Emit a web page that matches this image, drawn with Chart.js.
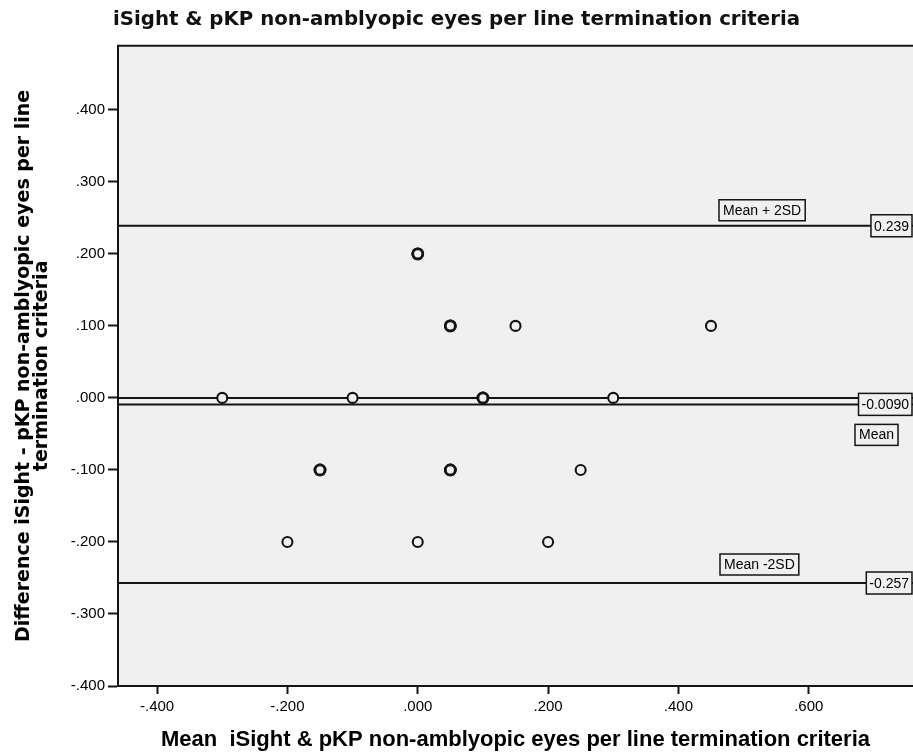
<!DOCTYPE html>
<html><head><meta charset="utf-8">
<script src="https://cdn.jsdelivr.net/npm/chart.js@4.4.0/dist/chart.umd.min.js"></script>
<style>html,body{margin:0;padding:0;background:#fff;} #wrap{width:913px;height:756px;}</style>
</head><body><div id="wrap"><canvas id="c" width="913" height="756"></canvas></div>
<script>
const chartTitle = 'iSight & pKP non-amblyopic eyes per line termination criteria';
const xAxisTitle = 'Mean  iSight & pKP non-amblyopic eyes per line termination criteria';
const yAxisTitle = ['Difference iSight - pKP non-amblyopic eyes per line', 'termination criteria'];

// Bland-Altman points (mean, difference); repeated pairs appear as heavier circles
const meanValues = [-0.3, -0.2, -0.15, -0.15, -0.1, 0, 0, 0, 0.05, 0.05, 0.05, 0.05, 0.1, 0.1, 0.15, 0.2, 0.25, 0.3, 0.45];
const diffValues = [0, -0.2, -0.1, -0.1, 0, 0.2, 0.2, -0.2, 0.1, 0.1, -0.1, -0.1, 0, 0, 0.1, -0.2, -0.1, 0, 0.1];

const xTickValues = [-0.4, -0.2, 0, 0.2, 0.4, 0.6];
const xTickLabels = ['-.400', '-.200', '.000', '.200', '.400', '.600'];
const yTickValues = [-0.4, -0.3, -0.2, -0.1, 0, 0.1, 0.2, 0.3, 0.4];
const yTickLabels = ['-.400', '-.300', '-.200', '-.100', '.000', '.100', '.200', '.300', '.400'];

const xRange = [-0.46, 0.76];
const yRange = [-0.4, 0.489];

// Reference lines: mean + 2SD, zero, mean, mean - 2SD
const refLineValues = [0.239, 0, -0.009, -0.257];
const refValueLabels = ['0.239', null, '-0.0090', '-0.257'];
const refNameLabels = ['Mean + 2SD', null, 'Mean', 'Mean -2SD'];

const FONT = "'Liberation Sans', Arial, sans-serif";
const WIDE_FONT = "'DejaVu Sans', sans-serif";
const PLOT_BG = '#f0f0f0';

function labelFor(values, labels, v) {
  for (let i = 0; i < values.length; i++) if (Math.abs(values[i] - v) < 1e-6) return labels[i];
  return '';
}

const points = meanValues.map((m, i) => ({x: m, y: diffValues[i]}));
const counts = points.map(p => points.filter(q => q.x === p.x && q.y === p.y).length);

const refDatasets = refLineValues.map(v => ({
  type: 'line',
  data: [{x: xRange[0], y: v}, {x: xRange[1], y: v}],
  borderColor: '#141414',
  borderWidth: 2,
  pointRadius: 0,
  fill: false,
  order: 2
}));

const framePlugin = {
  id: 'frame',
  beforeDraw(chart) {
    const {ctx, chartArea: a} = chart;
    ctx.save();
    ctx.fillStyle = '#ffffff';
    ctx.fillRect(0, 0, chart.width, chart.height);
    ctx.fillStyle = PLOT_BG;
    ctx.fillRect(a.left, a.top, a.right - a.left, a.bottom - a.top);
    ctx.restore();
  },
  afterDraw(chart) {
    const {ctx, chartArea: a} = chart;
    ctx.save();
    ctx.strokeStyle = '#141414';
    ctx.lineWidth = 2;
    ctx.beginPath();
    ctx.moveTo(a.left - 1, a.top);
    ctx.lineTo(a.right, a.top);
    ctx.stroke();
    ctx.restore();
  }
};

// value boxes sit at the right edge on the line; name boxes placed near their lines
const namePlacement = [{left: 719, dy: -26}, null, {left: 855, dy: 20}, {left: 720, dy: -29}];

const refLabelPlugin = {
  id: 'refLabels',
  afterDatasetsDraw(chart) {
    const {ctx, chartArea: a, scales} = chart;
    ctx.save();
    ctx.font = '14px ' + FONT;
    ctx.textBaseline = 'middle';
    ctx.lineWidth = 1.5;
    refLineValues.forEach((v, i) => {
      const y = scales.y.getPixelForValue(v);
      const vt = refValueLabels[i];
      if (vt) {
        const w = ctx.measureText(vt).width + 6;
        const left = a.right - 1 - w;
        ctx.fillStyle = PLOT_BG;
        ctx.fillRect(left, y - 11, w, 22);
        ctx.strokeStyle = '#141414';
        ctx.strokeRect(left, y - 11, w, 22);
        ctx.fillStyle = '#000';
        ctx.textAlign = 'left';
        ctx.fillText(vt, left + 3, y + 1);
      }
      const nt = refNameLabels[i];
      const pl = namePlacement[i];
      if (nt && pl) {
        const w = ctx.measureText(nt).width + 8;
        const top = y + pl.dy;
        ctx.fillStyle = PLOT_BG;
        ctx.fillRect(pl.left, top, w, 21);
        ctx.strokeStyle = '#141414';
        ctx.strokeRect(pl.left, top, w, 21);
        ctx.fillStyle = '#000';
        ctx.textAlign = 'left';
        ctx.fillText(nt, pl.left + 4, top + 11);
      }
    });
    ctx.restore();
  }
};

new Chart(document.getElementById('c'), {
  type: 'scatter',
  data: {
    datasets: [{
      data: points,
      pointStyle: 'circle',
      pointRadius: 5,
      pointHoverRadius: 5,
      pointBackgroundColor: PLOT_BG,
      pointBorderColor: '#141414',
      pointBorderWidth: ctx => (counts[ctx.dataIndex] > 1 ? 2.8 : 2.1),
      showLine: false,
      order: 0
    }, ...refDatasets]
  },
  options: {
    responsive: false,
    animation: false,
    devicePixelRatio: 1,
    layout: {padding: 0, autoPadding: false},
    plugins: {
      legend: {display: false},
      tooltip: {enabled: false},
      title: {
        display: true,
        text: chartTitle,
        color: '#111',
        font: {family: WIDE_FONT, size: 19.75, weight: 'bold', lineHeight: 1.2},
        padding: {top: 8, bottom: 14}
      }
    },
    scales: {
      x: {
        type: 'linear',
        min: xRange[0],
        max: xRange[1],
        afterFit: s => { s.height = 70; },
        afterBuildTicks: s => { s.ticks = xTickValues.map(v => ({value: v})); },
        ticks: {
          includeBounds: false,
          color: '#000',
          font: {family: FONT, size: 15},
          padding: 4,
          maxRotation: 0,
          callback: v => labelFor(xTickValues, xTickLabels, v)
        },
        grid: {drawOnChartArea: false, drawTicks: true, tickLength: 8, tickWidth: 2, tickColor: '#141414'},
        border: {display: true, color: '#141414', width: 2},
        title: {
          display: true,
          text: xAxisTitle,
          color: '#000',
          font: {family: FONT, size: 22, weight: 'bold', lineHeight: 1.2},
          padding: {top: 0, bottom: 3}
        }
      },
      y: {
        type: 'linear',
        min: yRange[0],
        max: yRange[1],
        afterFit: s => { s.width = 118; },
        afterBuildTicks: s => { s.ticks = yTickValues.map(v => ({value: v})); },
        ticks: {
          includeBounds: false,
          color: '#000',
          font: {family: FONT, size: 15},
          padding: 3,
          callback: v => labelFor(yTickValues, yTickLabels, v)
        },
        grid: {drawOnChartArea: false, drawTicks: true, tickLength: 10, tickWidth: 2, tickColor: '#141414'},
        border: {display: true, color: '#141414', width: 2},
        title: {
          display: true,
          text: yAxisTitle,
          color: '#000',
          font: {family: WIDE_FONT, size: 19, weight: 'bold', lineHeight: 0.92},
          padding: {top: 15.5, bottom: 0}
        }
      }
    }
  },
  plugins: [framePlugin, refLabelPlugin]
});
</script>
</body></html>
